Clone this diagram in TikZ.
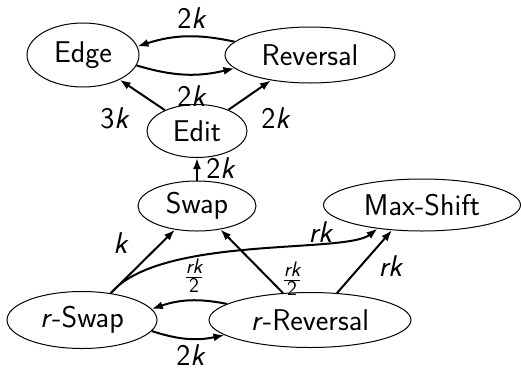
\documentclass[tikz,border=0pt]{standalone}
\usepackage{amsmath}
\usetikzlibrary{shapes.geometric,arrows.meta}
\begin{document}
\begin{tikzpicture}[x=1pt,y=1pt,
  every node/.style={font=\fontsize{30}{34}\selectfont\sffamily},
  st/.style={ellipse,draw,line width=1pt,inner sep=0pt},
  ar/.style={line width=2pt,-{Latex[length=11pt,width=8pt]}},
  lab/.style={inner sep=0pt}]
\useasboundingbox (0,-370) rectangle (521,0);
\node[st,minimum width=112pt,minimum height=64pt] (edge) at (83,-55) {Edge};
\node[st,minimum width=170pt,minimum height=56pt] (rev) at (310,-55) {Reversal};
\node[st,minimum width=100pt,minimum height=53pt] (edit) at (197,-131) {Edit};
\node[st,minimum width=118pt,minimum height=50pt] (swap) at (197,-206) {Swap};
\node[st,minimum width=197pt,minimum height=52pt] (max) at (422,-205) {Max-Shift};
\node[st,minimum width=150pt,minimum height=57pt] (rswap) at (82,-320) {\textit{r}-Swap};
\node[st,minimum width=202pt,minimum height=55pt] (rrev) at (310,-320) {\textit{r}-Reversal};

\draw[ar] (rev.170) to[bend right=15] (edge.9);
\draw[ar] (edge.-11) to[bend right=15] (rev.190);
\draw[ar] (edit.147) -- (edge.-34);
\draw[ar] (edit.34) -- (rev.213);
\draw[ar] (swap.north) -- (edit.south);
\draw[ar] (rswap.43) -- (swap.227);
\draw[ar] (rswap.43) .. controls (160,-235) and (345,-254) .. (max.208);
\draw[ar] (rrev.135) -- (swap.-45);
\draw[ar] (rrev.45) -- (max.220);
\draw[ar] (rrev.169) to[bend right=15] (rswap.9);
\draw[ar] (rswap.-9) to[bend right=15] (rrev.190);

\node[lab] (l1) at (192,-18) {2\textit{k}};
\node[lab] (l2) at (192,-96) {2\textit{k}};
\node[lab] (l3) at (115,-118) {3\textit{k}};
\node[lab] (l4) at (276,-118) {2\textit{k}};
\node[lab] (l5) at (221,-168) {2\textit{k}};
\node[lab] (l6) at (121,-243) {\textit{k}};
\node[lab] (l7) at (321,-232) {\textit{rk}};
\node[lab] (l8) at (194,-276) {$\frac{\textit{rk}}{\textsf{2}}$};
\node[lab] (l9) at (292,-279) {$\frac{\textit{rk}}{\textsf{2}}$};
\node[lab] (l10) at (391,-266) {\textit{rk}};
\node[lab] (l11) at (191,-355) {2\textit{k}};
\end{tikzpicture}
\end{document}
